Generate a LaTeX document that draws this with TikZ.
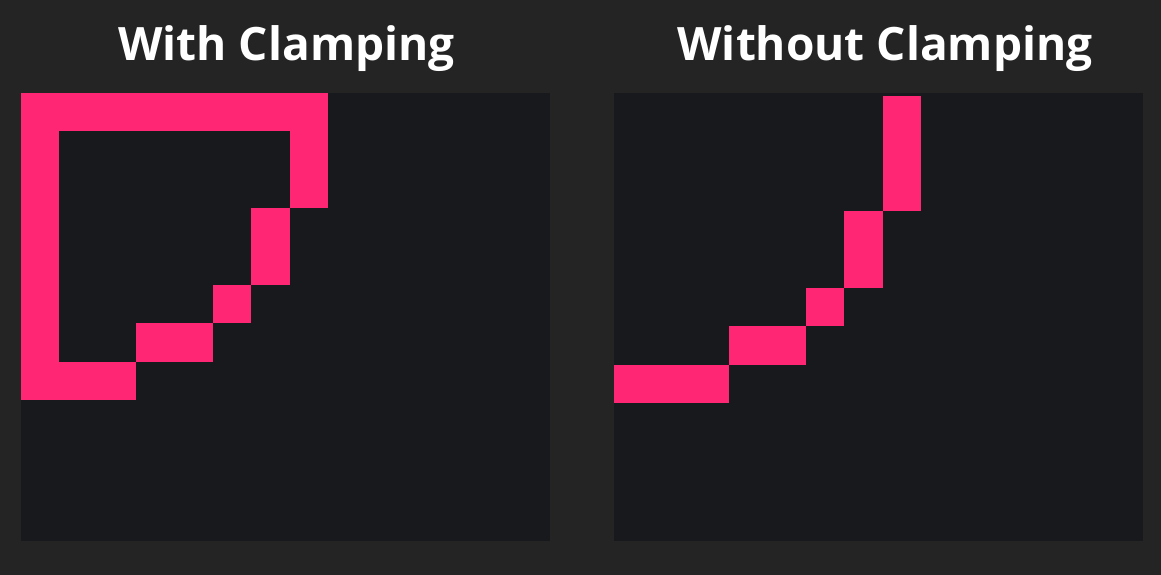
\documentclass[tikz,border=0pt]{standalone}
\usepackage{fontspec}
\setmainfont{Open Sans}
\definecolor{bgcol}{HTML}{242424}
\definecolor{panelcol}{HTML}{18191D}
\definecolor{hotpink}{HTML}{FF2673}
\begin{document}
\begin{tikzpicture}[x=1pt,y=-1pt]
\tikzstyle{title}=[font=\fontsize{46}{54}\selectfont\bfseries, text=white, anchor=base, inner sep=0pt]
\tikzstyle{panel}=[fill=panelcol]
\tikzstyle{pix}=[fill=hotpink]
\fill [bgcol] (0,0) rectangle (1161,575);
\useasboundingbox (0,0) rectangle (1161,575);
\node [title] (withtitle) at (286.5,61) {With Clamping};
\node [title] (withouttitle) at (885,61) {Without Clamping};
\fill [panel] (21,93) rectangle (550,541);
\fill [panel] (614,93) rectangle (1143,541);
% clamped
\begin{scope}[shift={(21,93)},x=38.4pt,y=-38.4pt]
\fill [pix] (0,0) rectangle (8,1);
\fill [pix] (0,1) rectangle (1,8);
\fill [pix] (1,7) rectangle (3,8);
\fill [pix] (3,6) rectangle (5,7);
\fill [pix] (5,5) rectangle (6,6);
\fill [pix] (6,3) rectangle (7,5);
\fill [pix] (7,1) rectangle (8,3);
\end{scope}
% unclamped
\begin{scope}[shift={(614,96)},x=38.4pt,y=-38.4pt]
\fill [pix] (7,0) rectangle (8,3);
\fill [pix] (6,3) rectangle (7,5);
\fill [pix] (5,5) rectangle (6,6);
\fill [pix] (3,6) rectangle (5,7);
\fill [pix] (0,7) rectangle (3,8);
\end{scope}
\end{tikzpicture}
\end{document}
